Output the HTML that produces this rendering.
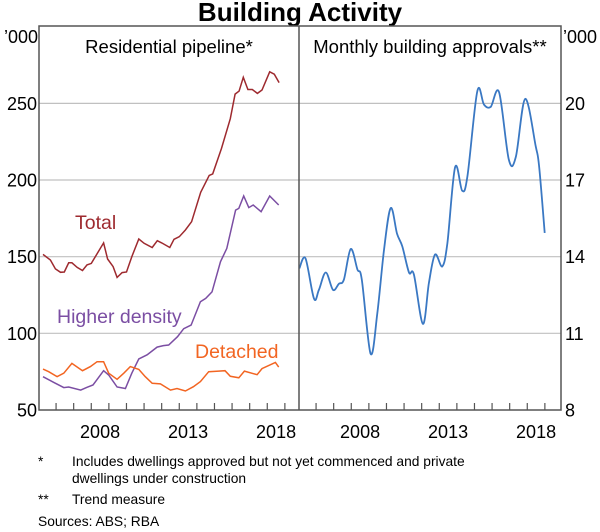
<!DOCTYPE html>
<html><head><meta charset="utf-8"><style>
body{margin:0;background:#fff;}
svg{display:block;font-family:"Liberation Sans",sans-serif;}
</style></head><body>
<svg id="c" width="600" height="532" viewBox="0 0 600 532">
<text x="300" y="21" text-anchor="middle" font-size="26" font-weight="bold">Building Activity</text>
<g id="grid"></g>
<g id="series"></g>
<rect x="39" y="26" width="522" height="384" fill="none" stroke="#555" stroke-width="1.5"/>
<line x1="299" y1="26" x2="299" y2="410" stroke="#555" stroke-width="1.5"/>
<text x="169" y="53" text-anchor="middle" font-size="18.5">Residential pipeline*</text>
<text x="430" y="53" text-anchor="middle" font-size="18.5">Monthly building approvals**</text>
<text x="38" y="43" text-anchor="end" font-size="18">’000</text>
<text x="563" y="43" font-size="18">’000</text>
<text x="75" y="229" font-size="19.5" fill="#9e2a2f">Total</text>
<text x="57" y="323" font-size="19.5" fill="#7b4ea3">Higher density</text>
<text x="195" y="358" font-size="19.5" fill="#f26522">Detached</text>
<g font-size="13.8">
<text x="38" y="466">*</text><text x="72" y="466">Includes dwellings approved but not yet commenced and private</text>
<text x="72" y="483">dwellings under construction</text>
<text x="38" y="504">**</text><text x="72" y="504">Trend measure</text>
<text x="38" y="526">Sources: ABS; RBA</text>
</g>
</svg>
<script>
const leftTicks=[50,100,150,200,250];
const rightTicks=[8,11,14,17,20];
const yearLabels=[2008,2013,2018];
const totalYears=[2005.26,2005.68,2005.96,2006.25,2006.47,2006.72,2006.9,2007.2,2007.5,2007.76,2008.0,2008.7,2008.93,2009.24,2009.47,2009.75,2010.0,2010.3,2010.7,2011.0,2011.46,2011.75,2012.0,2012.46,2012.7,2013.0,2013.35,2013.7,2014.22,2014.7,2014.9,2015.4,2015.9,2016.17,2016.4,2016.64,2016.9,2017.15,2017.44,2017.7,2018.14,2018.4,2018.67];
const totalVals=[151.5,147.8,142,139.8,140,146,146,143,141,144.6,145.6,159,148.5,143.5,136.5,139.6,140,150,161.5,158.7,156,160.4,159,156,161.3,163,167.4,172.8,192,203,204,220.6,240,256,258,267,259,259,256.5,258.7,270.6,269,263.5];
const hdYears=[2005.26,2005.87,2006.44,2006.72,2007.4,2007.76,2008.1,2008.7,2008.99,2009.47,2009.94,2010.3,2010.7,2011.17,2011.74,2012.1,2012.4,2012.9,2013.25,2013.67,2014.2,2014.5,2014.86,2015.34,2015.7,2016.2,2016.38,2016.66,2016.95,2017.2,2017.65,2018.14,2018.65];
const hdVals=[71.7,68,64.6,65,63,64.8,66.3,75.6,72.8,65,64,74,83.3,86,91,92,92.4,97.8,103,105.4,120.6,122.8,127,146.7,155.4,180.4,181.5,189.6,182,183.7,179.3,189.6,183.7];
const detYears=[2005.26,2005.58,2006.06,2006.44,2006.9,2007.5,2007.95,2008.33,2008.7,2008.99,2009.47,2009.85,2010.22,2010.7,2011.07,2011.46,2011.93,2012.5,2012.87,2013.35,2013.8,2014.2,2014.67,2015.24,2015.6,2015.9,2016.38,2016.7,2017.42,2017.7,2018.46,2018.65];
const detVals=[76.7,75,71.7,74,80.4,75.6,78.3,81.5,81.5,74,70,74,78.3,76.5,71.7,67.4,67,63,64,62.4,65.2,68.5,75,75.4,75.6,72,71,75.4,73,77,81,78];
const apprYears=[2005.05,2005.4,2005.88,2006.16,2006.55,2006.96,2007.3,2007.58,2007.97,2008.35,2008.6,2009.1,2009.48,2009.86,2010.24,2010.6,2010.9,2011.28,2011.56,2012.07,2012.41,2012.76,2013.17,2013.46,2013.9,2014.3,2014.6,2015.16,2015.54,2015.92,2016.4,2016.95,2017.35,2017.88,2018.48,2018.67,2018.99];
const apprVals=[13.54,13.93,12.36,12.7,13.38,12.7,12.94,13.1,14.3,13.5,13.1,10.2,11.78,14.26,15.9,14.9,14.4,13.38,13.3,11.37,12.97,14.08,13.62,14.53,17.5,16.58,17.14,20.47,19.95,19.86,20.43,17.8,17.9,20.17,18.32,17.54,14.93];

const NS='http://www.w3.org/2000/svg';
const T0=2005.03, PX=17.6;
function xL(t){return 39+(t-T0)*PX;}
function xR(t){return 299+(t-T0)*PX;}
function yL(v){return 410-(v-50)*1.5333;}
function yR(v){return 410-(v-8)*25.56;}
function mk(tag,attrs,parent){const e=document.createElementNS(NS,tag);for(const k in attrs)e.setAttribute(k,attrs[k]);parent.appendChild(e);return e;}
const grid=document.getElementById('grid'), ser=document.getElementById('series'), svg=document.getElementById('c');
leftTicks.forEach((v,i)=>{
  if(v>50){const l=mk('line',{x1:39,x2:561,y1:yL(v),y2:yL(v),stroke:'#c0c0c0','stroke-width':1.2},grid);
  
  }
  const t=mk('text',{x:37,y:yL(v)+6.5,'text-anchor':'end','font-size':18},svg);t.textContent=v;
  
  
});
rightTicks.forEach(v=>{
  const t=mk('text',{x:565,y:yR(v)+6.5,'font-size':18},svg);t.textContent=v;
  
  
});
for(let y=2006;y<=2019;y++){
  [xL,xR].forEach(f=>{const l=mk('line',{x1:f(y),x2:f(y),y1:410,y2:403,stroke:'#555','stroke-width':1.2},grid);
  
  });
}
yearLabels.forEach(y=>{
  [xL,xR].forEach(f=>{const t=mk('text',{x:f(y+0.5),y:438,'text-anchor':'middle','font-size':18},svg);t.textContent=y;
  
  });
});
function line(xs,vs,fx,fy,col,name){
  const d=xs.map((t,i)=>(i?'L':'M')+fx(t).toFixed(1)+','+fy(vs[i]).toFixed(1)).join('');
  const p=mk('path',{d:d,fill:'none',stroke:col,'stroke-width':1.5},ser);
  
  
}
function smooth(xs,vs,fx,fy,col,name){
  const P=xs.map((t,i)=>[fx(t),fy(vs[i])]);
  let d='M'+P[0][0]+','+P[0][1];
  for(let i=0;i<P.length-1;i++){
    const p0=P[i-1]||P[i],p1=P[i],p2=P[i+1],p3=P[i+2]||P[i+1];
    const c1=[p1[0]+(p2[0]-p0[0])/6,p1[1]+(p2[1]-p0[1])/6];
    const c2=[p2[0]-(p3[0]-p1[0])/6,p2[1]-(p3[1]-p1[1])/6];
    d+='C'+c1.map(n=>n.toFixed(1))+' '+c2.map(n=>n.toFixed(1))+' '+p2.map(n=>n.toFixed(1));
  }
  const p=mk('path',{d:d,fill:'none',stroke:col,'stroke-width':1.8},ser);
  
  
}
line(totalYears,totalVals,xL,yL,'#9e2a2f','total-line');
line(hdYears,hdVals,xL,yL,'#7b4ea3','higher-density-line');
line(detYears,detVals,xL,yL,'#f26522','detached-line');
smooth(apprYears,apprVals,xR,yR,'#3a78c3','approvals-line');
</script>
</body></html>
